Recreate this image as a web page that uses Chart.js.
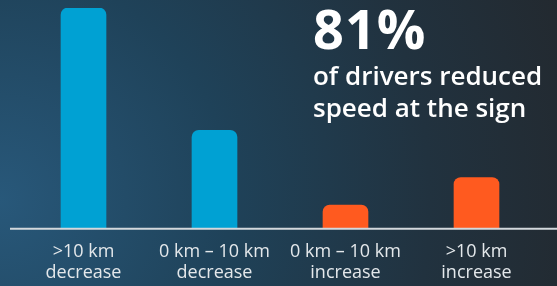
<!DOCTYPE html>
<html>
<head>
<meta charset="utf-8">
<script src="https://cdn.jsdelivr.net/npm/chart.js@4"></script>
<style>
  html, body { margin: 0; padding: 0; }
  body {
    width: 557px; height: 286px; overflow: hidden; position: relative;
    background: radial-gradient(circle at 0px 200px, #28587a 0px, #1f4259 230px, #21323f 430px, #23292f 600px);
    font-family: "Open Sans", sans-serif;
  }
  #wrap { position: absolute; left: 0; top: 0; width: 557px; height: 286px; }
  #headline { position: absolute; left: 313px; top: 1px; color: #ffffff; }
  #big { font-size: 54px; line-height: 54px; font-weight: 700; letter-spacing: 1px; }
  #sub { margin-top: 4px; font-size: 26px; line-height: 32px; font-weight: 600; }
</style>
</head>
<body>
<div id="wrap"><canvas id="speed" width="557" height="286"></canvas></div>
<div id="headline">
  <div id="big">81%</div>
  <div id="sub">of drivers reduced<br>speed at the sign</div>
</div>
<script>
const categories = [
  [">10 km", "decrease"],
  ["0 km – 10 km", "decrease"],
  ["0 km – 10 km", "increase"],
  [">10 km", "increase"]
];
const shares = [56, 25, 6, 13];
const barColors = ["#00a1d3", "#00a1d3", "#ff5a1f", "#ff5a1f"];

// white baseline across the full width, at value 0
const baseline = {
  id: "baseline",
  afterDatasetsDraw(chart) {
    const ctx = chart.ctx;
    const y = chart.scales.y.getPixelForValue(0);
    ctx.save();
    ctx.strokeStyle = "#d3d8dc";
    ctx.lineWidth = 2;
    ctx.beginPath();
    ctx.moveTo(10, y);
    ctx.lineTo(chart.width, y);
    ctx.stroke();
    ctx.restore();
  }
};

const chart = new Chart(document.getElementById("speed"), {
  type: "bar",
  data: {
    labels: categories,
    datasets: [{
      data: shares,
      backgroundColor: barColors,
      borderRadius: { topLeft: 7, topRight: 7 },
      borderSkipped: "bottom",
      barThickness: 45
    }]
  },
  options: {
    responsive: false,
    animation: false,
    layout: { padding: { left: 18, right: 15, top: 8, bottom: -10 } },
    plugins: {
      legend: { display: false },
      tooltip: { enabled: false }
    },
    scales: {
      y: { display: false, min: 0, max: 56 },
      x: {
        grid: { display: false, drawTicks: false },
        border: { display: false },
        ticks: {
          color: "#e4e8eb",
          padding: 12,
          font: { family: "\"Open Sans\", sans-serif", size: 18, lineHeight: 1.2 }
        }
      }
    }
  },
  plugins: [baseline]
});
</script>
</body>
</html>
